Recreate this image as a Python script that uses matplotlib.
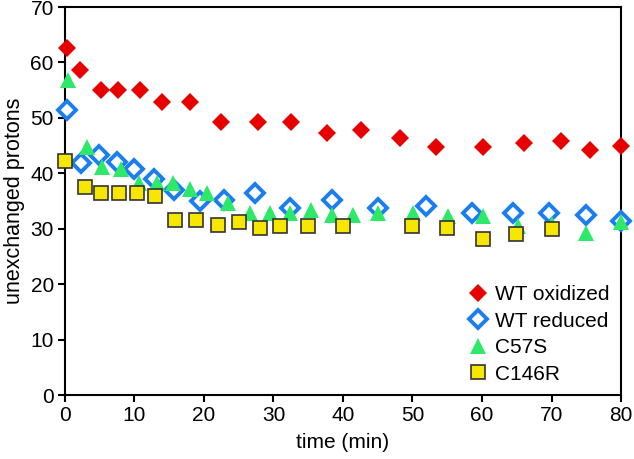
import numpy as np
import matplotlib.pyplot as plt

plt.rcParams['font.family'] = ['Liberation Sans', 'DejaVu Sans']

# WT oxidized
t_ox = [0.3, 2.2, 5.2, 7.6, 10.8, 14.0, 18.0, 22.4, 27.8, 32.5, 37.7, 42.6, 48.2, 53.4, 60.1, 66.0, 71.4, 75.5, 80.0]
y_ox = [62.6, 58.6, 55.0, 55.0, 55.0, 52.9, 52.9, 49.3, 49.2, 49.2, 47.3, 47.8, 46.3, 44.8, 44.8, 45.4, 45.8, 44.2, 44.9]

# WT reduced
t_red = [0.3, 2.3, 4.9, 7.5, 9.9, 12.8, 15.7, 19.4, 22.9, 27.3, 32.4, 38.4, 45.0, 51.9, 58.6, 64.5, 69.6, 75.0, 80.0]
y_red = [51.4, 41.9, 43.3, 42.0, 40.8, 39.0, 37.0, 35.0, 35.2, 36.4, 33.7, 35.2, 33.7, 34.1, 32.8, 32.8, 32.8, 32.5, 31.4]

# C57S
t_c57 = [0.4, 3.2, 5.3, 8.0, 10.7, 13.2, 15.6, 18.0, 20.4, 23.5, 26.6, 29.5, 32.4, 35.4, 38.4, 41.4, 45.0,
         50.1, 55.1, 60.1, 65.2, 70.0, 75.0, 80.0]
y_c57 = [56.8, 44.7, 41.2, 40.8, 38.3, 38.2, 38.2, 37.1, 36.4, 34.6, 32.8, 32.8, 32.8, 33.4, 32.5, 32.5, 32.8,
         32.8, 32.3, 32.3, 30.5, 30.8, 29.2, 31.3]

# C146R
t_c146 = [0.0, 2.9, 5.2, 7.8, 10.4, 13.0, 15.8, 18.8, 22.0, 25.0, 28.0, 30.9, 35.0, 40.0, 49.9, 55.0, 60.1, 64.9, 70.1]
y_c146 = [42.3, 37.6, 36.4, 36.4, 36.4, 35.9, 31.6, 31.6, 30.7, 31.2, 30.1, 30.5, 30.5, 30.5, 30.5, 30.1, 28.1, 29.0, 29.9]

fig = plt.figure(figsize=(6.34, 4.59), dpi=100)
ax = fig.add_axes([0.1025, 0.1394, 0.877, 0.8453])

ax.plot(t_ox, y_ox, 'D', color='#e60000', ms=9.5, mew=0, label='WT oxidized', clip_on=False, zorder=3)
ax.plot(t_red, y_red, 'D', mfc='white', mec='#1a7ef0', ms=8.8, mew=2.8, label='WT reduced', clip_on=False, zorder=3)
ax.plot(t_c57, y_c57, '^', color='#2ee86a', ms=12, mew=0, label='C57S', clip_on=False, zorder=3)
ax.plot(t_c146, y_c146, 's', mfc='#f7e600', mec='#333333', ms=9.5, mew=1.2, label='C146R', clip_on=False, zorder=3)

ax.set_xlim(0, 80)
ax.set_ylim(0, 70)
ax.set_xticks(np.arange(0, 81, 10))
ax.set_yticks(np.arange(0, 71, 10))
for s in ax.spines.values():
    s.set_linewidth(1.5)
ax.tick_params(direction='out', length=5, width=1.5, labelsize=15, pad=3)
ax.set_xlabel('time (min)', fontsize=15, labelpad=6)
ax.set_ylabel('unexchanged protons', fontsize=15.5, labelpad=4)

ax.legend(loc='lower right', frameon=False, fontsize=15, handletextpad=0.1,
          borderaxespad=0.15, labelspacing=0.36, handlelength=1.4, markerscale=1.0)

fig.savefig('out.png', dpi=100)
